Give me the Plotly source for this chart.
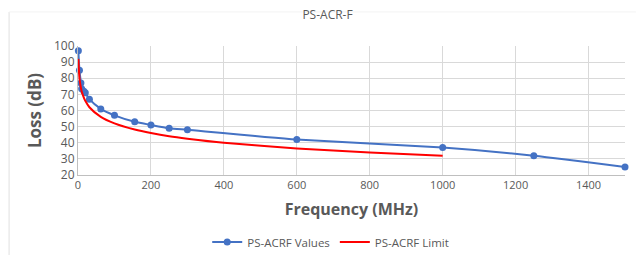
import plotly.graph_objects as go

freq_values = [1, 4, 8, 10, 16, 20, 31.25, 62.5, 100, 155.52, 200, 250, 300, 600, 1000, 1250, 1500]
loss_values = [97, 85, 77, 73.5, 72, 71, 67, 61, 57, 53, 51, 49, 48, 42, 37, 32, 25]

freq_limit = [1, 4, 8, 10, 16, 20, 31.25, 62.5, 100, 155.52, 200, 250, 300, 400, 600, 800, 1000]
loss_limit = [92, 80, 74, 72, 68, 66, 62, 56, 52, 48.2, 46, 44, 42.5, 40, 36.5, 34, 32]

x_ticks = [0, 200, 400, 600, 800, 1000, 1200, 1400]
y_ticks = [20, 30, 40, 50, 60, 70, 80, 90, 100]

BLUE = "#4472C4"
RED = "#FF0000"
GRID = "#D9D9D9"
TXT = "#595959"
FONT = "Open Sans"

fig = go.Figure()
fig.add_trace(go.Scatter(
    x=freq_values, y=loss_values, name="PS-ACRF Values",
    mode="lines+markers", line=dict(color=BLUE, width=2, shape="spline", smoothing=0.6),
    marker=dict(color=BLUE, size=7), cliponaxis=False,
))
fig.add_trace(go.Scatter(
    x=freq_limit, y=loss_limit, name="PS-ACRF Limit",
    mode="lines", line=dict(color=RED, width=2, shape="spline", smoothing=0.6),
))

fig.update_layout(
    width=636, height=255,
    margin=dict(l=78, r=11, t=46, b=80, autoexpand=False),
    paper_bgcolor="white", plot_bgcolor="white",
    font=dict(family=FONT, color=TXT, size=11),
    title=dict(text="PS-ACR-F", x=0.515, xanchor="center", xref="container",
               y=1 - 15 / 255, yanchor="middle", yref="container",
               font=dict(family=FONT, size=12, color=TXT)),
    showlegend=True,
    legend=dict(orientation="h", x=0.52, xanchor="center", xref="container",
                y=1 - 242 / 255, yanchor="middle", yref="container",
                font=dict(family=FONT, size=11.5, color=TXT),
                bgcolor="rgba(0,0,0,0)"),
    xaxis=dict(range=[0, 1500], tickvals=x_ticks, ticktext=[str(v) for v in x_ticks],
               showgrid=True, gridcolor=GRID, gridwidth=1, automargin=False,
               showline=True, linecolor="#BFBFBF", linewidth=1,
               zeroline=False, ticks="", tickfont=dict(size=11, color=TXT),
               title=dict(text="<b>Frequency (MHz)</b>", standoff=12,
                          font=dict(family=FONT, size=16, color=TXT))),
    yaxis=dict(range=[20, 100], tickvals=y_ticks, ticktext=[str(v) for v in y_ticks],
               showgrid=True, gridcolor=GRID, gridwidth=1, automargin=False,
               showline=True, linecolor="#BFBFBF", linewidth=1,
               zeroline=False, ticks="", tickfont=dict(size=12, color=TXT),
               title=dict(text="<b>Loss (dB)</b>", standoff=8,
                          font=dict(family=FONT, size=17, color=TXT))),
)

fig.add_shape(type="line", xref="paper", yref="paper",
              x0=-0.126, x1=-0.126, y0=-0.62, y1=1.264,
              line=dict(color="#E0E0E0", width=1))
fig.add_shape(type="line", xref="paper", yref="paper",
              x0=-0.126, x1=1.02, y0=1.264, y1=1.264,
              line=dict(color="#F3F3F3", width=1))

fig.write_html("out.html", config={"displayModeBar": False},
               post_script="document.body.style.margin='0';document.body.style.overflow='hidden';")
